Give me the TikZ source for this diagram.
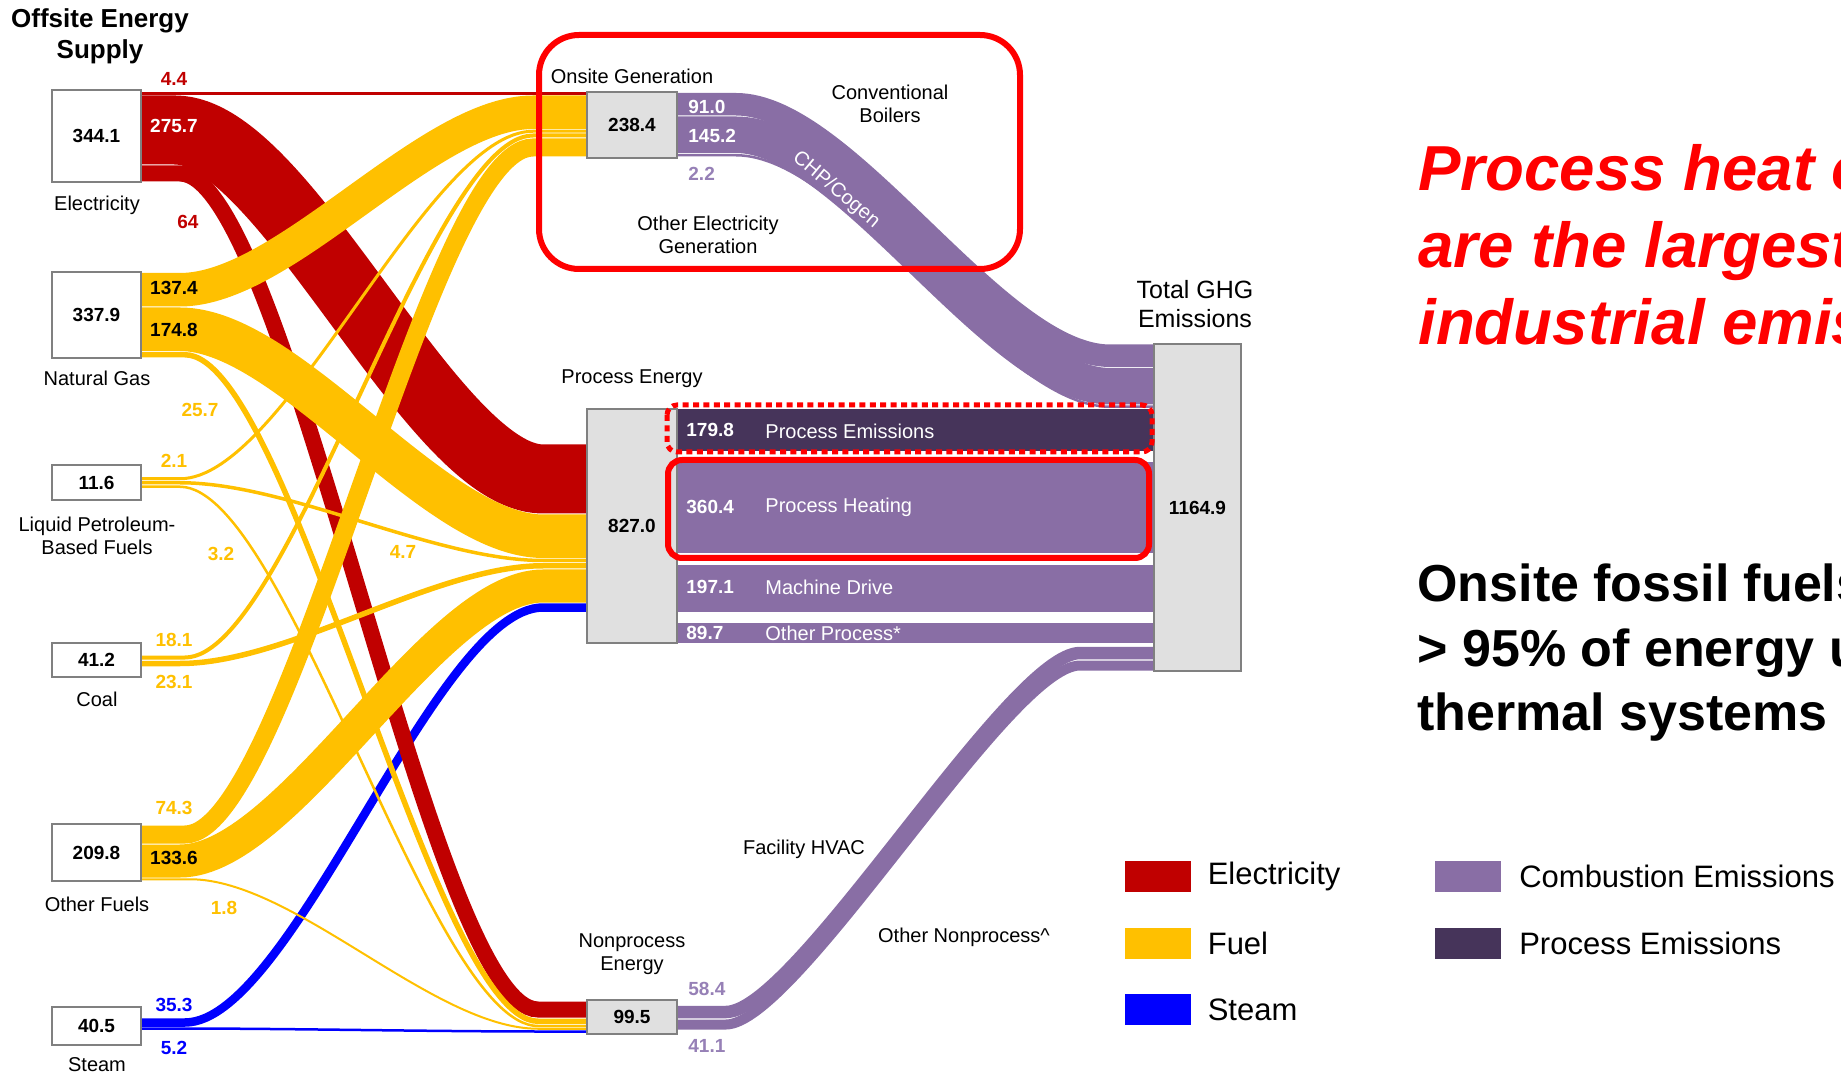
\documentclass[tikz,border=0pt]{standalone}
\usepackage{fontspec}
\setmainfont{Liberation Sans}
\usetikzlibrary{calc,positioning}

\definecolor{elecred}{RGB}{192,0,0}
\definecolor{fuelyel}{RGB}{255,192,0}
\definecolor{steamblue}{RGB}{0,0,255}
\definecolor{combpurple}{RGB}{137,110,165}
\definecolor{procdark}{RGB}{70,52,90}
\definecolor{lightpurple}{RGB}{150,128,182}
\definecolor{boxgray}{RGB}{224,224,224}
\definecolor{edgegray}{RGB}{128,128,128}
\definecolor{hired}{RGB}{255,0,0}

% Sankey band: [bend], colour, from, to, width, start stub, end stub (px)
\newcommand{\flow}[7][0.3]{%
  \draw[#2, line width=#5*0.5pt] let \p1=(#3), \p2=(#4) in
    (#3) -- ++(#6,0)
    .. controls +({#1*(\x2-\x1-(#6+#7)*0.5pt)},0pt)
            and +({-#1*(\x2-\x1-(#6+#7)*0.5pt)},0pt) .. ($(#4)+(-#7,0)$)
    -- (#4);
}

\begin{document}
\begin{tikzpicture}[x=0.5pt, y=-0.5pt,
    every node/.style={inner sep=0pt, font=\fontsize{10}{11.5}\selectfont},
    srcbox/.style={draw=edgegray, line width=0.8pt, fill=white, minimum width=44.5pt,
                   font=\fontsize{9.5}{11}\selectfont\bfseries},
    tgtbox/.style={srcbox, fill=boxgray},
    val/.style={font=\fontsize{9.5}{11}\selectfont\bfseries},
    boxlbl/.style={align=center},
    hilite/.style={draw=hired, line width=3pt},
    swatch/.style={minimum width=33pt, minimum height=15.5pt},
    keytext/.style={font=\fontsize{15.5}{18}\selectfont}]
    \useasboundingbox (0,0) rectangle (1841,1074);
    \clip (0,0) rectangle (1841,1074);

    % --- FLOW END POINTS ---
    % electricity
    \coordinate (e1a) at (140,93.5);    \coordinate (e1b) at (588,93.5);
    \coordinate (e2a) at (140,130);     \coordinate (e2b) at (588,479);
    \coordinate (e3a) at (140,173.5);   \coordinate (e3b) at (588,1009.5);
    % natural gas
    \coordinate (n1a) at (140,289.75);  \coordinate (n1b) at (588,112.25);
    \coordinate (n2a) at (140,329.25);  \coordinate (n2b) at (588,536.25);
    \coordinate (n3a) at (140,354.75);  \coordinate (n3b) at (588,1021.25);
    % liquid petroleum
    \coordinate (l1a) at (140,478.75);  \coordinate (l1b) at (588,131.25);
    \coordinate (l2a) at (140,482.75);  \coordinate (l2b) at (588,560.5);
    \coordinate (l3a) at (140,486.75);  \coordinate (l3b) at (588,1026);
    % coal
    \coordinate (c1a) at (140,657.5);   \coordinate (c1b) at (588,135.5);
    \coordinate (c2a) at (140,663.5);   \coordinate (c2b) at (588,565.75);
    % other fuels
    \coordinate (o1a) at (140,834.5);   \coordinate (o1b) at (588,147.5);
    \coordinate (o2a) at (140,861);     \coordinate (o2b) at (588,586);
    \coordinate (o3a) at (140,879.25);  \coordinate (o3b) at (588,1028.75);
    % steam
    \coordinate (s1a) at (140,1022.5);  \coordinate (s1b) at (588,607.5);
    \coordinate (s2a) at (140,1028.5);  \coordinate (s2b) at (588,1031.5);
    % onsite generation -> total
    \coordinate (p1a) at (676,104.25);  \coordinate (p1b) at (1155,355.75);
    \coordinate (p2a) at (676,134.75);  \coordinate (p2b) at (1155,386.25);
    \coordinate (p3a) at (676,155.25);  \coordinate (p3b) at (1155,406.75);
    % nonprocess -> total
    \coordinate (q1a) at (676,1012);    \coordinate (q1b) at (1155,653);
    \coordinate (q2a) at (676,1024.5);  \coordinate (q2b) at (1155,665.5);

    % --- ENERGY FLOWS (steam, electricity, fuel) ---
    \flow{steamblue}{s1a}{s1b}{8.5}{45}{45}
    \flow{steamblue}{s2a}{s2b}{2.5}{40}{45}
    \flow{elecred}{e1a}{e1b}{2.5}{0}{0}
    \flow{elecred}{e2a}{e2b}{69}{35}{45}
    \flow{elecred}{e3a}{e3b}{16}{40}{50}
    \flow{fuelyel}{n1a}{n1b}{33.5}{40}{55}
    \flow{fuelyel}{n2a}{n2b}{43.5}{40}{45}
    \flow{fuelyel}{n3a}{n3b}{5.5}{45}{50}
    \flow{fuelyel}{l1a}{l1b}{3}{40}{55}
    \flow{fuelyel}{l2a}{l2b}{3.5}{40}{45}
    \flow{fuelyel}{l3a}{l3b}{2.5}{40}{50}
    \flow{fuelyel}{c1a}{c1b}{4}{45}{55}
    \flow{fuelyel}{c2a}{c2b}{5.5}{40}{45}
    \flow{fuelyel}{o1a}{o1b}{18}{45}{55}
    \flow{fuelyel}{o2a}{o2b}{33}{40}{45}
    \flow{fuelyel}{o3a}{o3b}{2}{50}{50}

    % --- EMISSION FLOWS ---
    \flow{combpurple}{p1a}{p1b}{22.5}{60}{45}
    \flow{combpurple}{p2a}{p2b}{36.5}{60}{45}
    \flow{combpurple}{p3a}{p3b}{2.5}{60}{45}
    \flow[0.2]{combpurple}{q1a}{q1b}{12.5}{50}{75}
    \flow[0.2]{combpurple}{q2a}{q2b}{10}{50}{75}
    \fill[procdark]   (676,409) rectangle (1155,451);
    \fill[combpurple] (676,462) rectangle (1155,553);
    \fill[combpurple] (676,565) rectangle (1155,612);
    \fill[combpurple] (676,623) rectangle (1155,643);

    % --- BOXES ---
    \node[srcbox, minimum height=46pt]   (elec)  at (96.5,136)   {344.1};
    \node[srcbox, minimum height=43pt]   (ngas)  at (96.5,315)   {337.9};
    \node[srcbox, minimum height=17.5pt] (lpg)   at (96.5,482.5) {11.6};
    \node[srcbox, minimum height=17pt]   (coal)  at (96.5,660)   {41.2};
    \node[srcbox, minimum height=28.5pt] (ofuel) at (96.5,852.5) {209.8};
    \node[srcbox, minimum height=19pt]   (steam) at (96.5,1026)  {40.5};
    \node[tgtbox, minimum width=45pt, minimum height=33pt]  (onsite) at (632,125)  {238.4};
    \node[tgtbox, minimum width=45pt, minimum height=117pt] (proc)   at (632,526)  {827.0};
    \node[tgtbox, minimum width=45pt, minimum height=17pt]  (nonproc) at (632,1017) {99.5};
    \node[tgtbox, minimum width=43.5pt, minimum height=163.5pt] (total) at (1197.5,507.5) {1164.9};

    % --- HIGHLIGHTS ---
    \draw[hilite, rounded corners=20pt] (539,35) rectangle (1020,269);
    \draw[hilite, rounded corners=7pt] (668,460) rectangle (1149,558);
    \draw[hired, line width=2.5pt, dash pattern=on 3pt off 2.2pt, rounded corners=5pt]
        (667,405) rectangle (1152,452);

    % --- LABELS ---
    \node[boxlbl, font=\fontsize{13}{15.5}\selectfont\bfseries] (hd-off) at (100,36.5) {Offsite Energy\\Supply};
    \node (elec-lbl)  at (97,205)  {Electricity};
    \node (ngas-lbl)  at (97,378)  {Natural Gas};
    \node[boxlbl, font=\fontsize{10}{11.5}\selectfont] (lpg-lbl) at (97,535.5) {Liquid Petroleum-\\Based Fuels};
    \node (coal-lbl)  at (97,699)  {Coal};
    \node (ofuel-lbl) at (97,904)  {Other Fuels};
    \node (steam-lbl) at (97,1065) {Steam};
    \node (onsite-lbl) at (632,76)  {Onsite Generation};
    \node (proc-lbl)   at (632,379) {Process Energy};
    \node[boxlbl] (nonproc-lbl) at (632,954) {Nonprocess\\Energy};
    \node[boxlbl, font=\fontsize{12.5}{14.5}\selectfont] (total-lbl) at (1195,304) {Total GHG\\Emissions};

    % flow values
    \node[val, text=elecred] (v-e1) at (174,79)  {4.4};
    \node[val, text=white]   (v-e2) at (174,126) {275.7};
    \node[val, text=elecred] (v-e3) at (188,222) {64};
    \node[val]               (v-n1) at (174,288) {137.4};
    \node[val]               (v-n2) at (174,330) {174.8};
    \node[val, text=fuelyel] (v-n3) at (200,410) {25.7};
    \node[val, text=fuelyel] (v-l1) at (174,461) {2.1};
    \node[val, text=fuelyel] (v-l3) at (221,554) {3.2};
    \node[val, text=fuelyel] (v-l2) at (403,552) {4.7};
    \node[val, text=fuelyel] (v-c1) at (174,640) {18.1};
    \node[val, text=fuelyel] (v-c2) at (174,682) {23.1};
    \node[val, text=fuelyel] (v-o1) at (174,808) {74.3};
    \node[val]               (v-o2) at (174,858) {133.6};
    \node[val, text=fuelyel] (v-o3) at (224,908) {1.8};
    \node[val, text=steamblue] (v-s1) at (174,1005) {35.3};
    \node[val, text=steamblue] (v-s2) at (174,1048) {5.2};
    \node[val, text=white, anchor=west]       (v-p1) at (688,107)  {91.0};
    \node[val, text=white, anchor=west]       (v-p2) at (688,136)  {145.2};
    \node[val, text=lightpurple, anchor=west] (v-p3) at (688,174)  {2.2};
    \node[val, text=lightpurple, anchor=west] (v-q1) at (688,989)  {58.4};
    \node[val, text=lightpurple, anchor=west] (v-q2) at (688,1046) {41.1};

    % flow names
    \node[boxlbl] (boilers) at (890,103.5) {Conventional\\Boilers};
    \node[boxlbl] (othgen)  at (708,234.5) {Other Electricity\\Generation};
    \node[text=white, rotate=-40] (chp) at (836,190) {CHP/Cogen};
    \node (hvac)   at (804,849) {Facility HVAC};
    \node (othnon) at (964,937) {Other Nonprocess\textasciicircum};

    % process bands
    \node[val, text=white, anchor=west] (v-pe) at (686,430) {179.8};
    \node[text=white, anchor=west]      (pe)   at (765,431) {Process Emissions};
    \node[val, text=white, anchor=west] (v-ph) at (686,507) {360.4};
    \node[text=white, anchor=west]      (ph)   at (765,507) {Process Heating};
    \node[val, text=white, anchor=west] (v-md) at (686,587) {197.1};
    \node[text=white, anchor=west]      (md)   at (765,587) {Machine Drive};
    \node[val, text=white, anchor=west] (v-op) at (686,633) {89.7};
    \node[text=white, anchor=west]      (op)   at (765,633) {Other Process*};

    % --- LEGEND ---
    \node[swatch, fill=elecred]    (key-elec)  at (1158,876.5)  {};
    \node[swatch, fill=fuelyel]    (key-fuel)  at (1158,943)    {};
    \node[swatch, fill=steamblue]  (key-steam) at (1158,1009.5) {};
    \node[swatch, fill=combpurple] (key-comb)  at (1467.5,876.5) {};
    \node[swatch, fill=procdark]   (key-proc)  at (1467.5,943)   {};
    \node[keytext, right=8pt of key-elec]  (txt-elec)  {Electricity};
    \node[keytext, right=8pt of key-fuel]  (txt-fuel)  {Fuel};
    \node[keytext, right=8pt of key-steam] (txt-steam) {Steam};
    \node[keytext, right=9pt of key-comb]  (txt-comb)  {Combustion Emissions};
    \node[keytext, right=9pt of key-proc]  (txt-proc)  {Process Emissions};

    % --- MESSAGES (cut by the right edge) ---
    \begin{scope}[every node/.style={anchor=base west, inner sep=0pt}]
        \node[font=\fontsize{31.8}{38}\selectfont\bfseries\itshape, text=hired] (msg1a) at (1418,190.5) {Process heat operations};
        \node[font=\fontsize{31.8}{38}\selectfont\bfseries\itshape, text=hired] (msg1b) at (1418,268) {are the largest source of};
        \node[font=\fontsize{31.8}{38}\selectfont\bfseries\itshape, text=hired] (msg1c) at (1418,345) {industrial emissions};
        \node[font=\fontsize{26}{32}\selectfont\bfseries] (msg2a) at (1417,602) {Onsite fossil fuels provide};
        \node[font=\fontsize{26}{32}\selectfont\bfseries] (msg2b) at (1417,666) {> 95\% of energy used in};
        \node[font=\fontsize{26}{32}\selectfont\bfseries] (msg2c) at (1417,730) {thermal systems};
    \end{scope}
\end{tikzpicture}
\end{document}
